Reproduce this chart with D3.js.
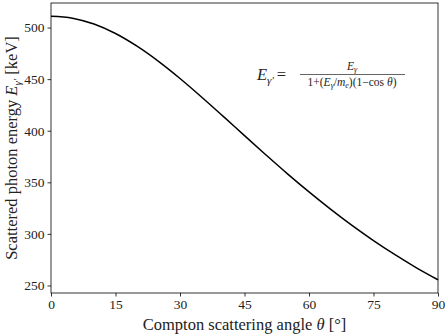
<!DOCTYPE html>
<html>
<head>
<meta charset="utf-8">
<script src="https://cdn.jsdelivr.net/npm/d3@7"></script>
<style>
  body { margin: 0; background: #fff; }
  svg { font-family: "Liberation Serif", "DejaVu Serif", serif; }
</style>
</head>
<body>
<svg width="448" height="336"></svg>
<script>
'use strict'

// scattering angle (deg) and scattered photon energy (keV)
const angles = [0, 5, 10, 15, 20, 25, 30, 35, 40, 45, 50, 55, 60, 65, 70, 75, 80, 85, 90];
const energies = [511, 509.1, 503.4, 494.2, 481.9, 467.2, 450.6, 432.7, 414.1, 395.2,
  376.5, 358.2, 340.7, 324.0, 308.2, 293.5, 279.8, 267.1, 255.5];
const xTicks = [0, 15, 30, 45, 60, 75, 90];
const yTicks = [250, 300, 350, 400, 450, 500];

const margin = { left: 51, right: 10, top: 3, bottom: 43 };
const svg = d3.select('svg');
const width = 448, height = 336;

const x = d3.scaleLinear().domain([0, 90]).range([margin.left, width - margin.right]);
const y = d3.scaleLinear().domain([242.7, 523.8]).range([height - margin.bottom, margin.top]);

const xAxis = svg.append('g')
  .attr('transform', `translate(0,${height - margin.bottom})`)
  .call(d3.axisBottom(x).tickValues(xTicks).tickSize(3.5).tickPadding(3).tickFormat(d3.format('d')));
const yAxis = svg.append('g')
  .attr('transform', `translate(${margin.left},0)`)
  .call(d3.axisLeft(y).tickValues(yTicks).tickSize(3.5).tickPadding(3).tickFormat(d3.format('d')));

[xAxis, yAxis].forEach(g => {
  g.select('.domain').remove();
  g.selectAll('line').attr('stroke', '#000').attr('stroke-width', 0.8);
  g.selectAll('text').attr('font-size', 13.5).attr('fill', '#222')
    .attr('font-family', '"Liberation Serif", serif');
});

// frame
svg.append('rect')
  .attr('x', margin.left).attr('y', margin.top)
  .attr('width', width - margin.left - margin.right)
  .attr('height', height - margin.top - margin.bottom)
  .attr('fill', 'none').attr('stroke', '#000').attr('stroke-width', 0.8);

const line = d3.line()
  .x((d, i) => x(angles[i]))
  .y(d => y(d))
  .curve(d3.curveMonotoneX);

svg.append('path')
  .datum(energies)
  .attr('d', line)
  .attr('fill', 'none')
  .attr('stroke', '#000')
  .attr('stroke-width', 1.5);

// x label
const xl = svg.append('text')
  .attr('x', (margin.left + width - margin.right) / 2)
  .attr('y', 330)
  .attr('text-anchor', 'middle')
  .attr('font-size', 16.5)
  .attr('fill', '#222');
xl.append('tspan').text('Compton scattering angle ');
xl.append('tspan').attr('font-style', 'italic').text('θ');
xl.append('tspan').text(' [°]');

// y label
const yl = svg.append('text')
  .attr('transform', `translate(17,${(margin.top + height - margin.bottom) / 2}) rotate(-90)`)
  .attr('text-anchor', 'middle')
  .attr('font-size', 16.5)
  .attr('fill', '#222');
yl.append('tspan').text('Scattered photon energy ');
yl.append('tspan').attr('font-style', 'italic').text('E');
yl.append('tspan').attr('font-style', 'italic').attr('font-size', 11).attr('dy', 4).text('γ′');
yl.append('tspan').attr('dy', -4).text(' [keV]');

// formula annotation
const f = svg.append('g').attr('fill', '#222');
const lhs = f.append('text').attr('x', 257).attr('y', 80).attr('font-size', 16.5);
lhs.append('tspan').attr('font-style', 'italic').text('E');
lhs.append('tspan').attr('font-style', 'italic').attr('font-size', 11).attr('dy', 4).text('γ′');
lhs.append('tspan').attr('dy', -4).attr('dx', 3).text('=');

f.append('line')
  .attr('x1', 300).attr('x2', 405).attr('y1', 74.5).attr('y2', 74.5)
  .attr('stroke', '#222').attr('stroke-width', 0.7);

const num = f.append('text').attr('x', 352).attr('y', 70).attr('text-anchor', 'middle').attr('font-size', 11.5);
num.append('tspan').attr('font-style', 'italic').text('E');
num.append('tspan').attr('font-style', 'italic').attr('font-size', 8).attr('dy', 2).text('γ');

const den = f.append('text').attr('x', 352).attr('y', 85.5).attr('text-anchor', 'middle').attr('font-size', 11.5);
den.append('tspan').text('1+(');
den.append('tspan').attr('font-style', 'italic').text('E');
den.append('tspan').attr('font-style', 'italic').attr('font-size', 8).attr('dy', 2).text('γ');
den.append('tspan').attr('dy', -2).text('/');
den.append('tspan').attr('font-style', 'italic').text('m');
den.append('tspan').attr('font-style', 'italic').attr('font-size', 8).attr('dy', 2).text('e');
den.append('tspan').attr('dy', -2).text(')(1−cos ');
den.append('tspan').attr('font-style', 'italic').text('θ');
den.append('tspan').text(')');
</script>
</body>
</html>
